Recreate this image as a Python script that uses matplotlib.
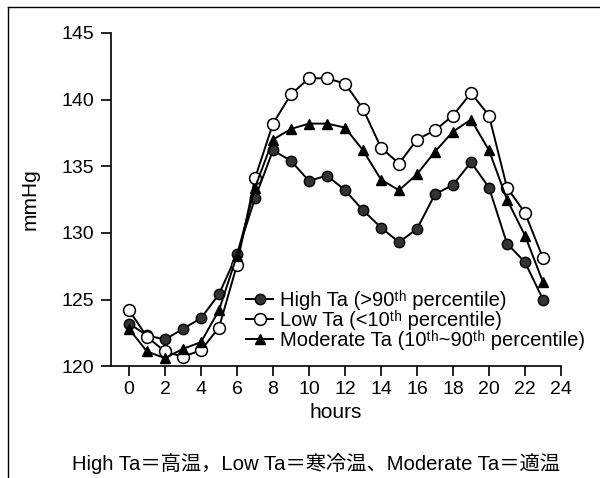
import matplotlib
matplotlib.use("Agg")
import matplotlib.pyplot as plt
from matplotlib.lines import Line2D

hours = list(range(24))
high_ta = [123.2, 122.3, 122.0, 122.8, 123.6, 125.4, 128.4, 132.6, 136.2, 135.4, 133.9, 134.3,
           133.2, 131.7, 130.4, 129.3, 130.3, 132.9, 133.6, 135.3, 133.4, 129.2, 127.8, 125.0]
low_ta = [124.2, 122.2, 121.1, 120.7, 121.2, 122.9, 127.6, 134.1, 138.2, 140.4, 141.6, 141.6,
          141.2, 139.3, 136.4, 135.2, 137.0, 137.7, 138.8, 140.5, 138.8, 133.4, 131.5, 128.1]
moderate_ta = [122.8, 121.1, 120.6, 121.3, 121.8, 124.2, 128.3, 133.4, 137.0, 137.8, 138.2, 138.2,
               137.9, 136.2, 134.0, 133.2, 134.4, 136.1, 137.6, 138.5, 136.2, 132.5, 129.8, 126.3]
labels = ["High Ta (>90ᵗʰ percentile)",
          "Low Ta (<10ᵗʰ percentile)",
          "Moderate Ta (10ᵗʰ~90ᵗʰ percentile)"]
xticks = list(range(0, 25, 2))
yticks = [120, 125, 130, 135, 140, 145]
caption = "High Ta＝高温，Low Ta＝寒冷温、Moderate Ta＝適温"

plt.rcParams['font.family'] = ['Liberation Sans', 'DejaVu Sans', 'Noto Sans CJK JP']

fig = plt.figure(figsize=(6.0, 4.78), dpi=100)
ax = fig.add_axes([0.185, 0.234, 0.75, 0.697])

ax.plot(hours, high_ta, '-', color='black', lw=1.4, marker='o', ms=7.5,
        mfc='#333333', mec='black', mew=1.0, label=labels[0], zorder=3)
ax.plot(hours, low_ta, '-', color='black', lw=1.4, marker='o', ms=8.5,
        mfc='white', mec='black', mew=1.1, label=labels[1], zorder=3)
ax.plot(hours, moderate_ta, '-', color='black', lw=1.4, marker='^', ms=6.5,
        mfc='black', mec='black', label=labels[2], zorder=3)

ax.set_xlim(-1.0, 24)
ax.set_ylim(120, 145)
ax.set_xticks(xticks)
ax.set_yticks(yticks)
ax.spines['top'].set_visible(False)
ax.spines['right'].set_visible(False)
ax.spines['left'].set_linewidth(1.2)
ax.spines['bottom'].set_linewidth(1.2)
ax.tick_params(direction='out', length=7, width=1.2, labelsize=14)
ax.tick_params(axis='y', pad=5)
ax.set_xlabel('hours', fontsize=15, labelpad=4)
ax.set_ylabel('mmHg', fontsize=15, labelpad=16)

ax.legend(loc='lower left', bbox_to_anchor=(0.30, 0.047), frameon=False, fontsize=14.5,
          handlelength=1.35, handletextpad=0.35, labelspacing=0.0, borderaxespad=0.0,
          borderpad=0.0)

fig.text(0.526, 0.031, caption, ha='center', va='center', fontsize=14.6,
         family=['Liberation Sans', 'Noto Sans CJK JP'])

fig.add_artist(Line2D([0.013, 1.0], [0.985, 0.985], color='black', lw=1, transform=fig.transFigure))
fig.add_artist(Line2D([0.013, 0.013], [0.0, 0.985], color='black', lw=1, transform=fig.transFigure))

fig.savefig('out.png', dpi=100)
